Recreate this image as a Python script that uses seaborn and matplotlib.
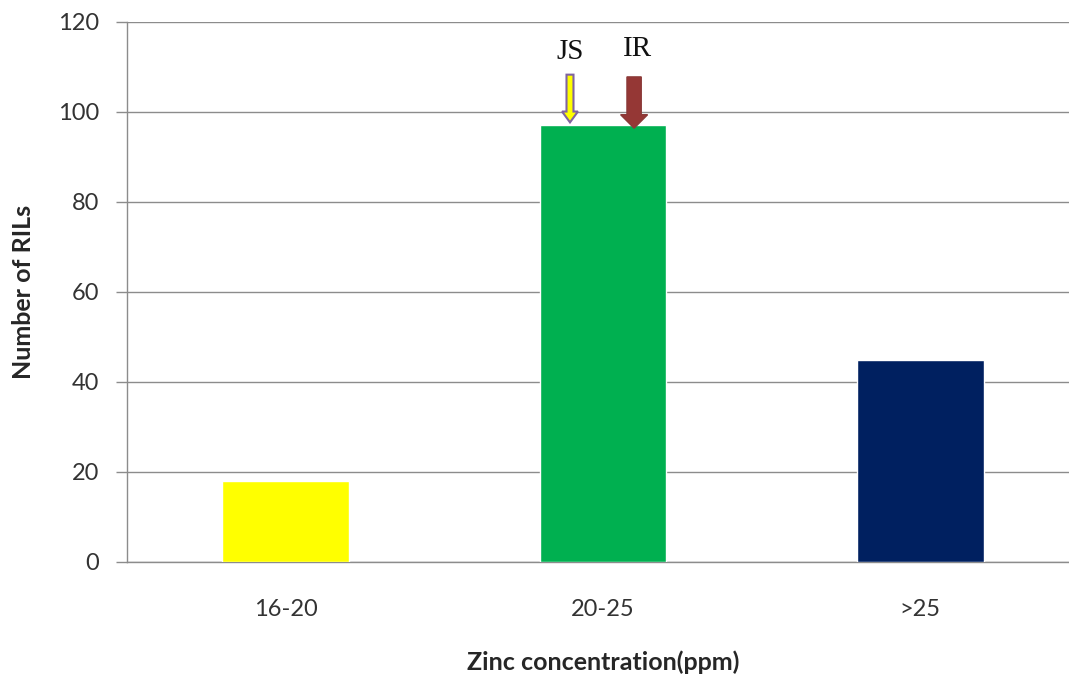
import matplotlib
matplotlib.use("Agg")
import matplotlib.pyplot as plt
import seaborn as sns
import pandas as pd
from matplotlib.patches import FancyArrow

categories = ["16-20", "20-25", ">25"]
counts = [18, 97, 45]
bar_colors = ["#FFFF00", "#00B050", "#002060"]
y_ticks = [0, 20, 40, 60, 80, 100, 120]

sns.set_theme(style="white")
plt.rcParams['font.family'] = ['Lato', 'DejaVu Sans']

df = pd.DataFrame({"cat": categories, "n": counts})

fig = plt.figure(figsize=(10.69, 6.75), dpi=100)
ax = fig.add_axes([127/1069, (675-562)/675, (1079-127)/1069, 540/675])

sns.barplot(data=df, x="cat", y="n", hue="cat", palette=bar_colors,
            legend=False, width=0.4, saturation=1, ax=ax, zorder=3)

ax.set_xlim(-0.5, 2.5)
ax.set_ylim(0, 120)
ax.set_yticks(y_ticks)
ax.set_yticklabels([str(v) for v in y_ticks], fontsize=17, color="#333333")
ax.yaxis.grid(True, color="#8c8c8c", linewidth=1)
ax.set_axisbelow(True)

ax.set_xticks([0, 1, 2])
ax.set_xticklabels(categories, fontsize=17, color="#333333")
ax.tick_params(axis="x", length=0, pad=27)
ax.set_xticks([-0.5, 0.5, 1.5, 2.5], minor=True)
ax.tick_params(axis="x", which="minor", length=8, color="#8c8c8c", width=1, direction="out")
ax.tick_params(axis="y", length=8, color="#8c8c8c", width=1, direction="out", left=True, pad=12)

for s in ["top", "right"]:
    ax.spines[s].set_visible(False)
for s in ["left", "bottom"]:
    ax.spines[s].set_color("#8c8c8c")
    ax.spines[s].set_linewidth(1)

ax.set_xlabel("Zinc concentration(ppm)", fontsize=18, fontweight="bold", va="center")
ax.set_ylabel("Number of RILs", fontsize=18, fontweight="bold", va="center")
ax.xaxis.set_label_coords((603-127)/(1079-127), -(662-562)/540)
ax.yaxis.set_label_coords(-(127-24)/952, 0.5)

# annotation arrows
ax.add_patch(FancyArrow(0.896, 108.3, 0, -10.6, width=0.022, head_width=0.05,
                        head_length=2.4, length_includes_head=True,
                        facecolor="#FFFF00", edgecolor="#8064A2", linewidth=1.5,
                        zorder=5, clip_on=False))
ax.add_patch(FancyArrow(1.098, 107.8, 0, -11.4, width=0.045, head_width=0.085,
                        head_length=3.0, length_includes_head=True,
                        facecolor="#953735", edgecolor="#8B3A38", linewidth=1,
                        zorder=5, clip_on=False))
ax.text(0.896, 113.4, "JS", family=["Liberation Serif"], fontsize=21,
        ha="center", va="center", color="#111111")
ax.text(1.11, 113.9, "IR", family=["Liberation Serif"], fontsize=21,
        ha="center", va="center", color="#111111")

fig.savefig("out.png", dpi=100)
